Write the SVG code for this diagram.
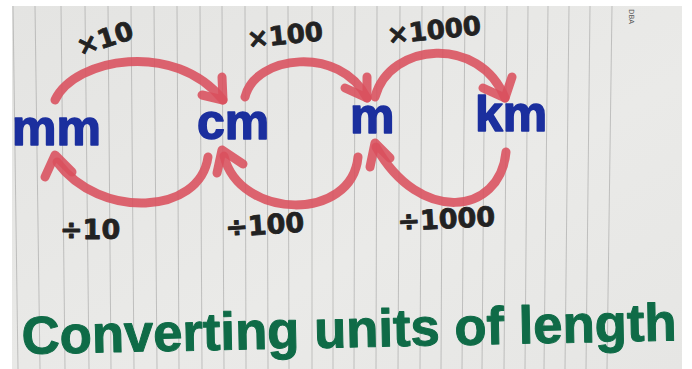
<svg xmlns="http://www.w3.org/2000/svg" width="692" height="369" viewBox="0 0 692 369">
  <defs>
    <linearGradient id="paper" x1="0" y1="0" x2="1" y2="1">
      <stop offset="0" stop-color="#e4e4e2"/>
      <stop offset="0.6" stop-color="#eaeae8"/>
      <stop offset="1" stop-color="#e6e6e4"/>
    </linearGradient>
  </defs>
  <style>
    .rule { stroke: #8f8f8f; stroke-width: 0.8; fill: none; opacity: 0.6; }
    .arrow { fill: none; stroke: #d9505d; stroke-width: 9; stroke-linecap: round; stroke-linejoin: round; opacity: 0.88; }
    .unit { font-family: "Liberation Sans", Arial, sans-serif; font-weight: bold; font-size: 50px; fill: #1b2f9e; stroke: #1b2f9e; stroke-width: 1.5; stroke-linejoin: round; }
    .lbl { font-family: "DejaVu Sans", "Liberation Sans", sans-serif; font-weight: bold; font-size: 26px; fill: #222222; stroke: #222222; stroke-width: 0.8; stroke-linejoin: round; }
    .title { font-family: "Liberation Sans", Arial, sans-serif; font-weight: bold; font-size: 53px; fill: #0f6b47; stroke: #0f6b47; stroke-width: 1; stroke-linejoin: round; }
    .tiny { font-family: "DejaVu Sans", sans-serif; font-size: 7px; fill: #555555; }
  </style>

  <rect x="0" y="0" width="692" height="369" fill="#ffffff"/>
  <rect x="12" y="6" width="670" height="363" fill="url(#paper)"/>

  <g id="rules">
    <line class="rule" x1="13" y1="6" x2="18" y2="369"/>
    <line class="rule" x1="35" y1="6" x2="40" y2="369"/>
    <line class="rule" x1="61" y1="6" x2="65" y2="369"/>
    <line class="rule" x1="85" y1="6" x2="89" y2="369"/>
    <line class="rule" x1="108" y1="6" x2="111" y2="369"/>
    <line class="rule" x1="131" y1="6" x2="134" y2="369"/>
    <line class="rule" x1="154" y1="6" x2="157" y2="369"/>
    <line class="rule" x1="177" y1="6" x2="179" y2="369"/>
    <line class="rule" x1="200" y1="6" x2="202" y2="369"/>
    <line class="rule" x1="222" y1="6" x2="224" y2="369"/>
    <line class="rule" x1="245" y1="6" x2="246" y2="369"/>
    <line class="rule" x1="267" y1="6" x2="268" y2="369"/>
    <line class="rule" x1="288" y1="6" x2="289" y2="369"/>
    <line class="rule" x1="312" y1="6" x2="312" y2="369"/>
    <line class="rule" x1="333" y1="6" x2="333" y2="369"/>
    <line class="rule" x1="355" y1="6" x2="354" y2="369"/>
    <line class="rule" x1="377" y1="6" x2="376" y2="369"/>
    <line class="rule" x1="400" y1="6" x2="398" y2="369"/>
    <line class="rule" x1="422" y1="6" x2="420" y2="369"/>
    <line class="rule" x1="443" y1="6" x2="441" y2="369"/>
    <line class="rule" x1="465" y1="6" x2="462" y2="369"/>
    <line class="rule" x1="485" y1="6" x2="482" y2="369"/>
    <line class="rule" x1="507" y1="6" x2="504" y2="369"/>
    <line class="rule" x1="528" y1="6" x2="525" y2="369"/>
    <line class="rule" x1="548" y1="6" x2="544" y2="369"/>
    <line class="rule" x1="569" y1="6" x2="565" y2="369"/>
    <line class="rule" x1="590" y1="6" x2="586" y2="369"/>
    <line class="rule" x1="612" y1="6" x2="607" y2="369"/>
  </g>

  <text class="tiny" transform="translate(629 9) rotate(90)">DBA</text>

  <g id="connectors">
    <g id="mm-to-cm">
      <path class="arrow" d="M55 100 C75 58 175 40 223 100"/>
      <path class="arrow" d="M222 77 L223 100 L202 95"/>
      <text class="lbl" transform="translate(80 56) rotate(-18)">×10</text>
    </g>
    <g id="cm-to-m">
      <path class="arrow" d="M245 97 C255 55 340 45 367 98"/>
      <path class="arrow" d="M367 77 L367 98 L345 88"/>
      <text class="lbl" transform="translate(248 48) rotate(-6)">×100</text>
    </g>
    <g id="m-to-km">
      <path class="arrow" d="M375 97 C390 42 480 35 505 98"/>
      <path class="arrow" d="M512 77 L505 98 L483 88"/>
      <text class="lbl" transform="translate(388 44) rotate(-6)">×1000</text>
    </g>
    <g id="cm-to-mm">
      <path class="arrow" d="M208 157 C200 215 100 220 57 162"/>
      <path class="arrow" d="M45 177 L55 155 L72 172"/>
      <text class="lbl" style="font-size:27px" x="60" y="239">÷10</text>
    </g>
    <g id="m-to-cm">
      <path class="arrow" d="M358 157 C352 222 240 220 224 156"/>
      <path class="arrow" d="M217 173 L222 150 L243 164"/>
      <text class="lbl" style="font-size:27px" transform="translate(226 237) rotate(-4)">÷100</text>
    </g>
    <g id="km-to-m">
      <path class="arrow" d="M506 152 C500 215 420 225 376 147"/>
      <path class="arrow" d="M370 167 L375 143 L390 158"/>
      <text class="lbl" style="font-size:27px" transform="translate(398 231) rotate(-3)">÷1000</text>
    </g>
  </g>

  <g id="node-mm"><text class="unit" x="12" y="145">mm</text></g>
  <g id="node-cm"><text class="unit" x="197" y="139">cm</text></g>
  <g id="node-m"><text class="unit" x="350" y="133">m</text></g>
  <g id="node-km"><text class="unit" x="475" y="131">km</text></g>

  <text class="title" transform="translate(22 354) rotate(-1.2)" x="0" y="0" textLength="655" lengthAdjust="spacingAndGlyphs">Converting units of length</text>
</svg>
